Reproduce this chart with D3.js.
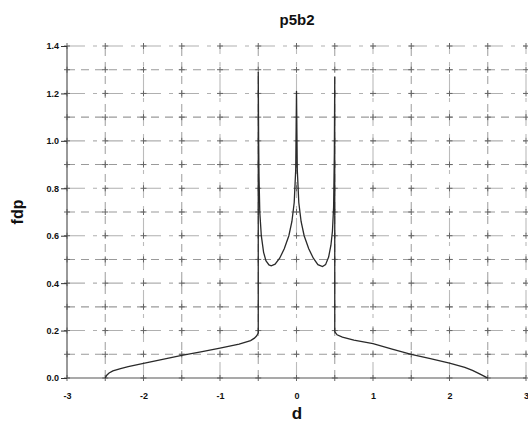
<!DOCTYPE html>
<html>
<head>
<meta charset="utf-8">
<script src="https://cdn.jsdelivr.net/npm/d3@7"></script>
<style>
  html, body { margin: 0; padding: 0; background: #fff; }
  svg { display: block; }
  text { font-family: "Liberation Sans", Arial, sans-serif; fill: #111; }
</style>
</head>
<body>
<svg id="chart" width="528" height="425"></svg>
<script>
// ---- data ----
const title = "p5b2";
const xLabel = "d";
const yLabel = "fdp";
const xTickValues = [-3, -2, -1, 0, 1, 2, 3];
const yTickValues = [0, 0.2, 0.4, 0.6, 0.8, 1.0, 1.2, 1.4];
const xGridValues = [-3, -2.5, -2, -1.5, -1, -0.5, 0, 0.5, 1, 1.5, 2, 2.5, 3];
const yGridValues = [0, 0.1, 0.2, 0.3, 0.4, 0.5, 0.6, 0.7, 0.8, 0.9, 1.0, 1.1, 1.2, 1.3, 1.4];

const dValues = [
  -2.5, -2.48, -2.45, -2.4, -2.3, -2.2, -2.0, -1.75, -1.5, -1.25, -1.0, -0.75, -0.6, -0.55, -0.52, -0.5,
  -0.5, -0.495, -0.49, -0.48, -0.46, -0.43, -0.4, -0.36, -0.33, -0.28, -0.22, -0.16, -0.1, -0.06, -0.03, -0.01,
  0,
  0.01, 0.03, 0.06, 0.1, 0.16, 0.22, 0.28, 0.34, 0.38, 0.42, 0.45, 0.47, 0.485, 0.495, 0.5,
  0.5, 0.53, 0.6, 0.75, 1.0, 1.25, 1.5, 1.75, 2.0, 2.2, 2.3, 2.4, 2.47, 2.5
];
const fdpValues = [
  0, 0.012, 0.021, 0.03, 0.04, 0.048, 0.062, 0.079, 0.095, 0.11, 0.126, 0.143, 0.158, 0.168, 0.178, 0.19,
  1.29, 1.0, 0.85, 0.7, 0.6, 0.53, 0.495, 0.477, 0.473, 0.48, 0.505, 0.545, 0.6, 0.66, 0.74, 0.88,
  1.21,
  0.88, 0.74, 0.66, 0.6, 0.545, 0.505, 0.478, 0.47, 0.478, 0.51, 0.56, 0.62, 0.72, 0.95, 1.27,
  0.196, 0.182, 0.172, 0.16, 0.145, 0.122, 0.1, 0.082, 0.063, 0.045, 0.032, 0.016, 0.005, 0
];

// ---- layout ----
const svg = d3.select("#chart");
const x = d3.scaleLinear().domain([-3, 3]).range([67, 526]);
const y = d3.scaleLinear().domain([0, 1.4]).range([378, 46]);
const near = (a, b) => Math.abs(a - b) < 1e-6;
const isMajorY = v => near(Math.round(v * 5) / 5, v);
const isMajorX = v => near(Math.round(v), v);

// grid
const grid = svg.append("g");
grid.selectAll("line.hg").data(yGridValues.filter(v => v > 0)).enter().append("line")
  .attr("x1", x(-3)).attr("x2", x(3))
  .attr("y1", d => y(d)).attr("y2", d => y(d))
  .attr("stroke", d => isMajorY(d) ? "#b0b0b0" : "#9a9a9a")
  .attr("stroke-width", 1.1)
  .attr("stroke-dasharray", d => isMajorY(d) ? "18,8,4,8" : "8,6");
grid.selectAll("line.vg").data(xGridValues.filter(v => v > -3)).enter().append("line")
  .attr("y1", y(0)).attr("y2", y(1.4))
  .attr("x1", d => x(d)).attr("x2", d => x(d))
  .attr("stroke", d => isMajorX(d) ? "#bbbbbb" : "#a5a5a5")
  .attr("stroke-width", 1.1)
  .attr("stroke-dasharray", d => isMajorX(d) ? "16,8,4,8" : "8,6");

// crosses at grid intersections
const crosses = [];
xGridValues.forEach(xv => yGridValues.forEach(yv => crosses.push([xv, yv])));
const cg = svg.append("g").attr("stroke", "#666").attr("stroke-width", 1);
cg.selectAll("path").data(crosses).enter().append("path")
  .attr("d", d => `M${x(d[0]) - 3},${y(d[1])}H${x(d[0]) + 3}M${x(d[0])},${y(d[1]) - 3}V${y(d[1]) + 3}`);

// axes lines
svg.append("line").attr("x1", x(-3)).attr("x2", x(-3)).attr("y1", y(0)).attr("y2", y(1.4))
  .attr("stroke", "#555").attr("stroke-width", 1.2);
svg.append("line").attr("x1", x(-3)).attr("x2", x(3)).attr("y1", y(0)).attr("y2", y(0))
  .attr("stroke", "#555").attr("stroke-width", 1.2);

// axis labels via d3 axes
const yAxis = d3.axisLeft(y).tickValues(yTickValues).tickFormat(d3.format(".1f"))
  .tickSizeInner(6).tickSizeOuter(0).tickPadding(2);
const gy = svg.append("g").attr("transform", `translate(${x(-3)},0)`).call(yAxis);
gy.select(".domain").remove();
gy.selectAll(".tick line").attr("stroke", "#333");
gy.selectAll(".tick text").attr("font-size", 9).attr("font-weight", "bold")
  .attr("font-family", "Liberation Sans, Arial, sans-serif").attr("fill", "#111");

const xAxis = d3.axisBottom(x).tickValues(xTickValues).tickFormat(d3.format("d"))
  .tickSizeInner(0).tickSizeOuter(0).tickPadding(15);
const gx = svg.append("g").attr("transform", `translate(0,${y(0)})`).call(xAxis);
gx.select(".domain").remove();
gx.selectAll(".tick text").attr("font-size", 9).attr("font-weight", "bold")
  .attr("font-family", "Liberation Sans, Arial, sans-serif").attr("fill", "#111")
  .text(d => (d < 0 ? "-" + Math.abs(d) : String(d)));

// curve
const pts = dValues.map((d, i) => [d, fdpValues[i]]);
svg.append("path").datum(pts)
  .attr("fill", "none").attr("stroke", "#2a2a2a").attr("stroke-width", 1.3)
  .attr("d", d3.line().x(p => x(p[0])).y(p => y(p[1])));

// titles
svg.append("text").attr("x", 297).attr("y", 25).attr("text-anchor", "middle")
  .attr("font-size", 15).attr("font-weight", "bold").text(title);
svg.append("text").attr("x", 297).attr("y", 419).attr("text-anchor", "middle")
  .attr("font-size", 17).attr("font-weight", "bold").text(xLabel);
svg.append("text").attr("transform", "translate(23,212) rotate(-90)").attr("text-anchor", "middle")
  .attr("font-size", 16).attr("font-weight", "bold").text(yLabel);
</script>
</body>
</html>
